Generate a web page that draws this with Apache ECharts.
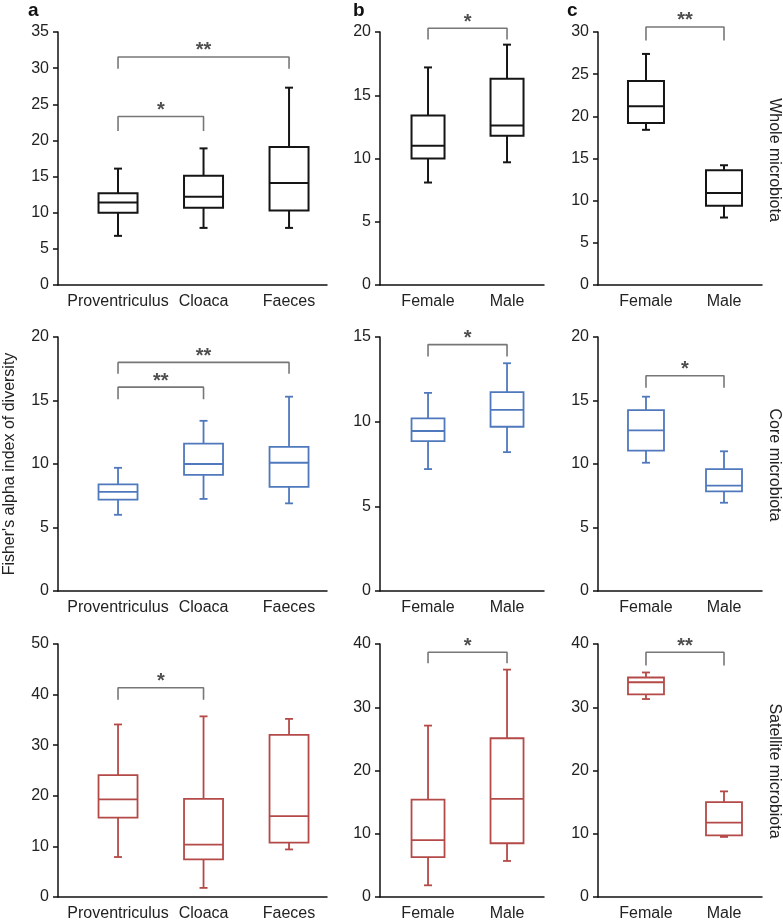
<!DOCTYPE html>
<html><head><meta charset="utf-8">
<script src="https://cdn.jsdelivr.net/npm/echarts@6/dist/echarts.min.js"></script>
<style>html,body{margin:0;padding:0;background:#fff}#chart{width:783px;height:921px}</style>
</head><body><div id="chart"></div>
<script>
// ---------- DATA ----------
const siteCategories = ['Proventriculus', 'Cloaca', 'Faeces'];
const sexCategories = ['Female', 'Male'];
const rowLabels = ['Whole microbiota', 'Core microbiota', 'Satellite microbiota'];
const panelLetters = ['a', 'b', 'c'];
const yAxisTitle = "Fisher's alpha index of diversity";

// box values: [min, Q1, median, Q3, max]
const wholeSite = [[6.8, 10.0, 11.4, 12.7, 16.1], [7.9, 10.7, 12.2, 15.1, 18.9], [7.9, 10.3, 14.1, 19.1, 27.3]];
const wholeSexB = [[8.1, 10.0, 11.0, 13.4, 17.2], [9.7, 11.8, 12.6, 16.3, 19.0]];
const wholeSexC = [[18.4, 19.2, 21.2, 24.2, 27.4], [8.0, 9.4, 10.9, 13.6, 14.2]];
const coreSite = [[6.0, 7.2, 7.8, 8.4, 9.7], [7.25, 9.15, 10.0, 11.6, 13.4], [6.9, 8.2, 10.1, 11.35, 15.3]];
const coreSexB = [[7.2, 8.85, 9.45, 10.2, 11.7], [8.2, 9.7, 10.7, 11.75, 13.45]];
const coreSexC = [[10.1, 11.05, 12.65, 14.25, 15.3], [6.95, 7.85, 8.3, 9.6, 11.0]];
const satSite = [[7.9, 15.7, 19.3, 24.1, 34.1], [1.8, 7.45, 10.35, 19.4, 35.7], [9.4, 10.75, 16.0, 32.05, 35.2]];
const satSexB = [[1.85, 6.3, 9.0, 15.4, 27.1], [5.7, 8.5, 15.5, 25.1, 35.95]];
const satSexC = [[31.3, 32.05, 33.95, 34.7, 35.5], [9.5, 9.75, 11.75, 15.0, 16.7]];

// significance brackets: [fromIndex, toIndex, armEnd, barLevel, label]
const wholeSiteSig = [[0, 2, 29.9, 31.55, '**'], [0, 1, 21.3, 23.3, '*']];
const wholeSexBSig = [[0, 1, 19.4, 20.3, '*']];
const wholeSexCSig = [[0, 1, 29.0, 30.6, '**']];
const coreSiteSig = [[0, 2, 17.1, 18.0, '**'], [0, 1, 15.1, 16.05, '**']];
const coreSexBSig = [[0, 1, 13.85, 14.55, '*']];
const coreSexCSig = [[0, 1, 16.0, 16.95, '*']];
const satSiteSig = [[0, 1, 39.0, 41.35, '*']];
const satSexBSig = [[0, 1, 36.95, 38.7, '*']];
const satSexCSig = [[0, 1, 36.6, 38.7, '**']];

// y axis ticks: [max, interval]
const wholeTicks = [[35, 5], [20, 5], [30, 5]];
const coreTicks = [[20, 5], [15, 5], [20, 5]];
const satTicks = [[50, 10], [40, 10], [40, 10]];

// ---------- LAYOUT / STYLE ----------
const FONT = '"Liberation Sans", Arial, Helvetica, sans-serif';
const colLayout = [
  { left: 58, width: 269, min: -0.702, max: 2.444, boxW: 39 },
  { left: 380, width: 164, min: -0.608, max: 1.468, boxW: 33 },
  { left: 598, width: 164, min: -0.615, max: 1.487, boxW: 36 }
];
const rowLayout = [
  { top: 32, height: 253 },
  { top: 337, height: 254 },
  { top: 644, height: 253 }
];
const rowColors = ['#151515', '#4f78bd', '#b44a48'];
const rowLineWidth = [2, 1.8, 1.8];

const rowsData = [
  { boxes: [wholeSite, wholeSexB, wholeSexC], sig: [wholeSiteSig, wholeSexBSig, wholeSexCSig], ticks: wholeTicks },
  { boxes: [coreSite, coreSexB, coreSexC], sig: [coreSiteSig, coreSexBSig, coreSexCSig], ticks: coreTicks },
  { boxes: [satSite, satSexB, satSexC], sig: [satSiteSig, satSexBSig, satSexCSig], ticks: satTicks }
];

function makeRenderItem(boxW, color, lw) {
  return function (params, api) {
    const x = api.value(0);
    const lo = api.coord([x, api.value(1)]);
    const q1 = api.coord([x, api.value(2)]);
    const md = api.coord([x, api.value(3)]);
    const q3 = api.coord([x, api.value(4)]);
    const hi = api.coord([x, api.value(5)]);
    const cx = lo[0], h = boxW / 2, c = 4;
    const st = { stroke: color, lineWidth: lw, fill: null };
    return {
      type: 'group',
      children: [
        { type: 'rect', shape: { x: cx - h, y: q3[1], width: boxW, height: q1[1] - q3[1] }, style: { stroke: color, lineWidth: lw, fill: 'none' } },
        { type: 'line', shape: { x1: cx - h, y1: md[1], x2: cx + h, y2: md[1] }, style: st },
        { type: 'line', shape: { x1: cx, y1: q3[1], x2: cx, y2: hi[1] }, style: st },
        { type: 'line', shape: { x1: cx, y1: q1[1], x2: cx, y2: lo[1] }, style: st },
        { type: 'line', shape: { x1: cx - c, y1: hi[1], x2: cx + c, y2: hi[1] }, style: st },
        { type: 'line', shape: { x1: cx - c, y1: lo[1], x2: cx + c, y2: lo[1] }, style: st }
      ]
    };
  };
}

const grids = [], xAxes = [], yAxes = [], series = [];
let gi = 0;
rowsData.forEach(function (row, r) {
  for (let c = 0; c < 3; c++) {
    const cats = c === 0 ? siteCategories : sexCategories;
    const L = colLayout[c], R = rowLayout[r];
    grids.push({ left: L.left, top: R.top, width: L.width, height: R.height, containLabel: false, outerBoundsMode: 'none' });
    xAxes.push({
      type: 'value', gridIndex: gi, min: L.min, max: L.max,
      axisLine: { show: true, onZero: false, lineStyle: { color: '#111', width: 1.5 } },
      axisTick: { show: false }, splitLine: { show: false },
      axisLabel: {
        customValues: cats.map(function (_, i) { return i; }),
        formatter: function (v) { return Number.isInteger(v) && cats[v] ? cats[v] : ''; },
        fontSize: 16, color: '#222', margin: 9, fontFamily: FONT
      }
    });
    const yAx = {
      type: 'value', gridIndex: gi, min: 0, max: row.ticks[c][0], interval: row.ticks[c][1],
      axisLine: { show: true, onZero: false, lineStyle: { color: '#111', width: 1.5 } },
      axisTick: { show: true, inside: false, length: 5, lineStyle: { color: '#111', width: 1.5 } },
      splitLine: { show: false },
      axisLabel: { fontSize: 16, color: '#222', margin: 9, fontFamily: FONT }
    };
    if (r === 1 && c === 0) {
      yAx.name = yAxisTitle;
      yAx.nameLocation = 'middle';
      yAx.nameRotate = 90;
      yAx.nameGap = 40;
      yAx.nameTextStyle = { fontSize: 16, color: '#222', fontFamily: FONT };
    }
    yAxes.push(yAx);

    series.push({
      type: 'custom', xAxisIndex: gi, yAxisIndex: gi, silent: true,
      renderItem: makeRenderItem(L.boxW, rowColors[r], rowLineWidth[r]),
      encode: { x: 0, y: [1, 2, 3, 4, 5] },
      data: row.boxes[c].map(function (b, i) { return [i].concat(b); })
    });

    row.sig[c].forEach(function (s) {
      series.push({
        type: 'line', xAxisIndex: gi, yAxisIndex: gi, silent: true, clip: false,
        symbol: 'none', animation: false,
        lineStyle: { color: '#777', width: 1.6 },
        data: [[s[0], s[2]], [s[0], s[3]], [s[1], s[3]], [s[1], s[2]]]
      });
      series.push({
        type: 'scatter', xAxisIndex: gi, yAxisIndex: gi, silent: true, clip: false,
        symbolSize: 0.1, itemStyle: { color: 'rgba(0,0,0,0)' }, animation: false,
        label: { show: true, position: 'top', distance: -4, formatter: s[4], fontSize: 20, fontWeight: 'bold', color: '#222', fontFamily: FONT },
        data: [[(s[0] + s[1]) / 2, s[3]]]
      });
    });
    gi++;
  }
});

const rowCenters = [160, 465, 771];
const graphics = rowLabels.map(function (t, i) {
  return {
    type: 'text', x: 774, y: rowCenters[i], rotation: -Math.PI / 2,
    style: { text: t, fontSize: 16, fill: '#222', fontFamily: FONT, align: 'center', verticalAlign: 'middle' }
  };
});

const titleX = [28, 353, 567];
const titles = panelLetters.map(function (t, i) {
  return { text: t, left: titleX[i], top: 1, padding: 0, textStyle: { fontSize: 19, fontWeight: 'bold', color: '#111', fontFamily: FONT } };
});

const chart = echarts.init(document.getElementById('chart'), null, { renderer: 'canvas' });
chart.setOption({
  backgroundColor: '#fff',
  animation: false,
  title: titles,
  grid: grids,
  xAxis: xAxes,
  yAxis: yAxes,
  series: series,
  graphic: graphics
});
</script></body></html>
